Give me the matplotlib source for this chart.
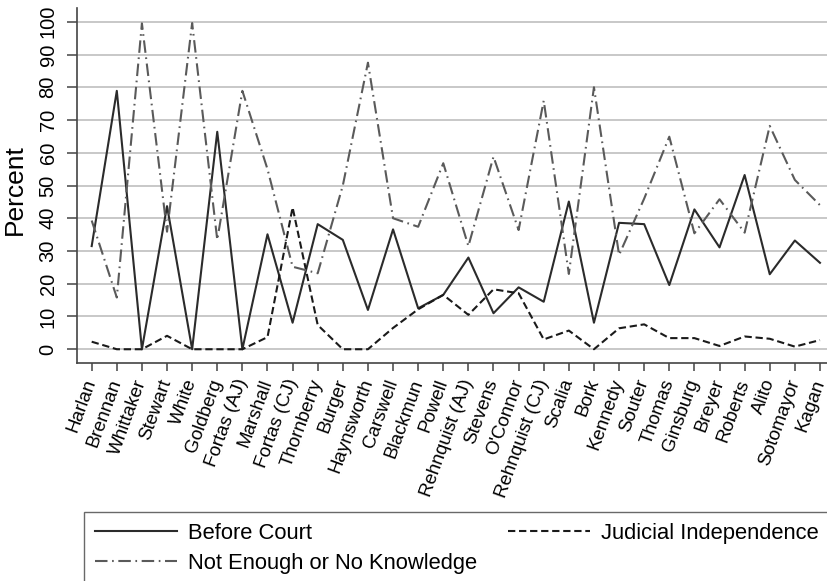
import matplotlib
matplotlib.use("Agg")
import matplotlib.pyplot as plt

# ── Data ───────────────────────────────────────────────────────────────────────
NOMINEES = [
    "Harlan", "Brennan", "Whittaker", "Stewart", "White", "Goldberg",
    "Fortas (AJ)", "Marshall", "Fortas (CJ)", "Thornberry", "Burger",
    "Haynsworth", "Carswell", "Blackmun", "Powell", "Rehnquist (AJ)",
    "Stevens", "O'Connor", "Rehnquist (CJ)", "Scalia", "Bork", "Kennedy",
    "Souter", "Thomas", "Ginsburg", "Breyer", "Roberts", "Alito",
    "Sotomayor", "Kagan",
]
before_court = [31.5, 78.9, 0, 43.7, 0, 66.4, 0, 35.1, 8.1, 38.2,
                33.4, 12.0, 36.6, 12.5, 16.6, 28.0, 11.0, 18.9, 14.5, 45.1,
                8.1, 38.6, 38.2, 19.6, 42.7, 31.1, 53.2, 22.9, 33.2, 26.4]
judicial_indep = [2.3, 0, 0, 4.1, 0, 0, 0, 3.7, 43.3, 7.4,
                  0, 0, 6.5, 12.2, 16.6, 10.5, 18.3, 17.1, 3.0, 5.7,
                  0, 6.4, 7.6, 3.4, 3.4, 1.0, 3.9, 3.2, 0.8, 2.8]
no_knowledge = [39.3, 15.8, 99.5, 35.9, 99.6, 33.4, 78.9, 55.0, 25.2, 23.2,
                50.0, 87.5, 40.0, 37.4, 56.8, 31.5, 58.8, 36.4, 75.9, 23.0,
                80.0, 28.8, 46.0, 64.9, 35.4, 45.8, 35.6, 68.2, 51.7, 44.0]
Y_TICKS = list(range(0, 101, 10))

# ── Style ──────────────────────────────────────────────────────────────────────
plt.rcParams["font.family"] = ["Liberation Sans", "DejaVu Sans"]
AXIS_COLOR = "#444444"
GRID_COLOR = "#c8c8c8"

fig = plt.figure(figsize=(8.27, 5.81), dpi=100)
ax = fig.add_axes([77 / 827, 1 - 363 / 581, 750 / 827, 355 / 581])

x = list(range(len(NOMINEES)))
ax.plot(x, before_court, color="#2b2b2b", lw=1.5, label="Before Court", zorder=3)
ax.plot(x, judicial_indep, color="#1a1a1a", lw=1.5, linestyle=(0, (3.5, 1.8)),
        label="Judicial Independence", zorder=3)
ax.plot(x, no_knowledge, color="#5a5a5a", lw=1.5, linestyle=(0, (6, 2.2, 0.8, 2.2)),
        label="Not Enough or No Knowledge", zorder=3)

ax.set_xlim(-0.585, len(NOMINEES) - 1 + 0.28)
ax.set_ylim(-4.2, 104.2)

ax.set_yticks(Y_TICKS)
ax.set_yticklabels([str(t) for t in Y_TICKS], rotation=90, va="center", fontsize=14.5)
ax.set_xticks(x)
ax.set_xticklabels(NOMINEES, rotation=70, ha="right", va="center",
                   rotation_mode="anchor", fontsize=13.5)

ax.grid(axis="y", color=GRID_COLOR, lw=1.4)
ax.set_axisbelow(True)
for side in ["top", "right"]:
    ax.spines[side].set_visible(False)
for side in ["left", "bottom"]:
    ax.spines[side].set_color(AXIS_COLOR)
    ax.spines[side].set_linewidth(1.2)
ax.tick_params(axis="y", length=7, width=1.1, color=AXIS_COLOR, pad=7)
ax.tick_params(axis="x", length=6, width=1.1, color=AXIS_COLOR, pad=6)

fig.text(14.5 / 827, 1 - 190 / 581, "Percent", rotation=90, ha="center",
         va="center", fontsize=19)

handles, labels = ax.get_legend_handles_labels()
order = [0, 2, 1]
leg = fig.legend([handles[i] for i in order], [labels[i] for i in order],
                 loc="upper left", bbox_to_anchor=(84 / 827, 1 - 512 / 581),
                 ncol=2, fontsize=15.8, frameon=True, fancybox=False,
                 handlelength=3.75, handletextpad=0.5, columnspacing=1.4,
                 labelspacing=0.4, borderpad=0.5, borderaxespad=0)
leg.get_frame().set_edgecolor(AXIS_COLOR)
leg.get_frame().set_linewidth(1.0)

fig.savefig("out.png", dpi=100, facecolor="white")
